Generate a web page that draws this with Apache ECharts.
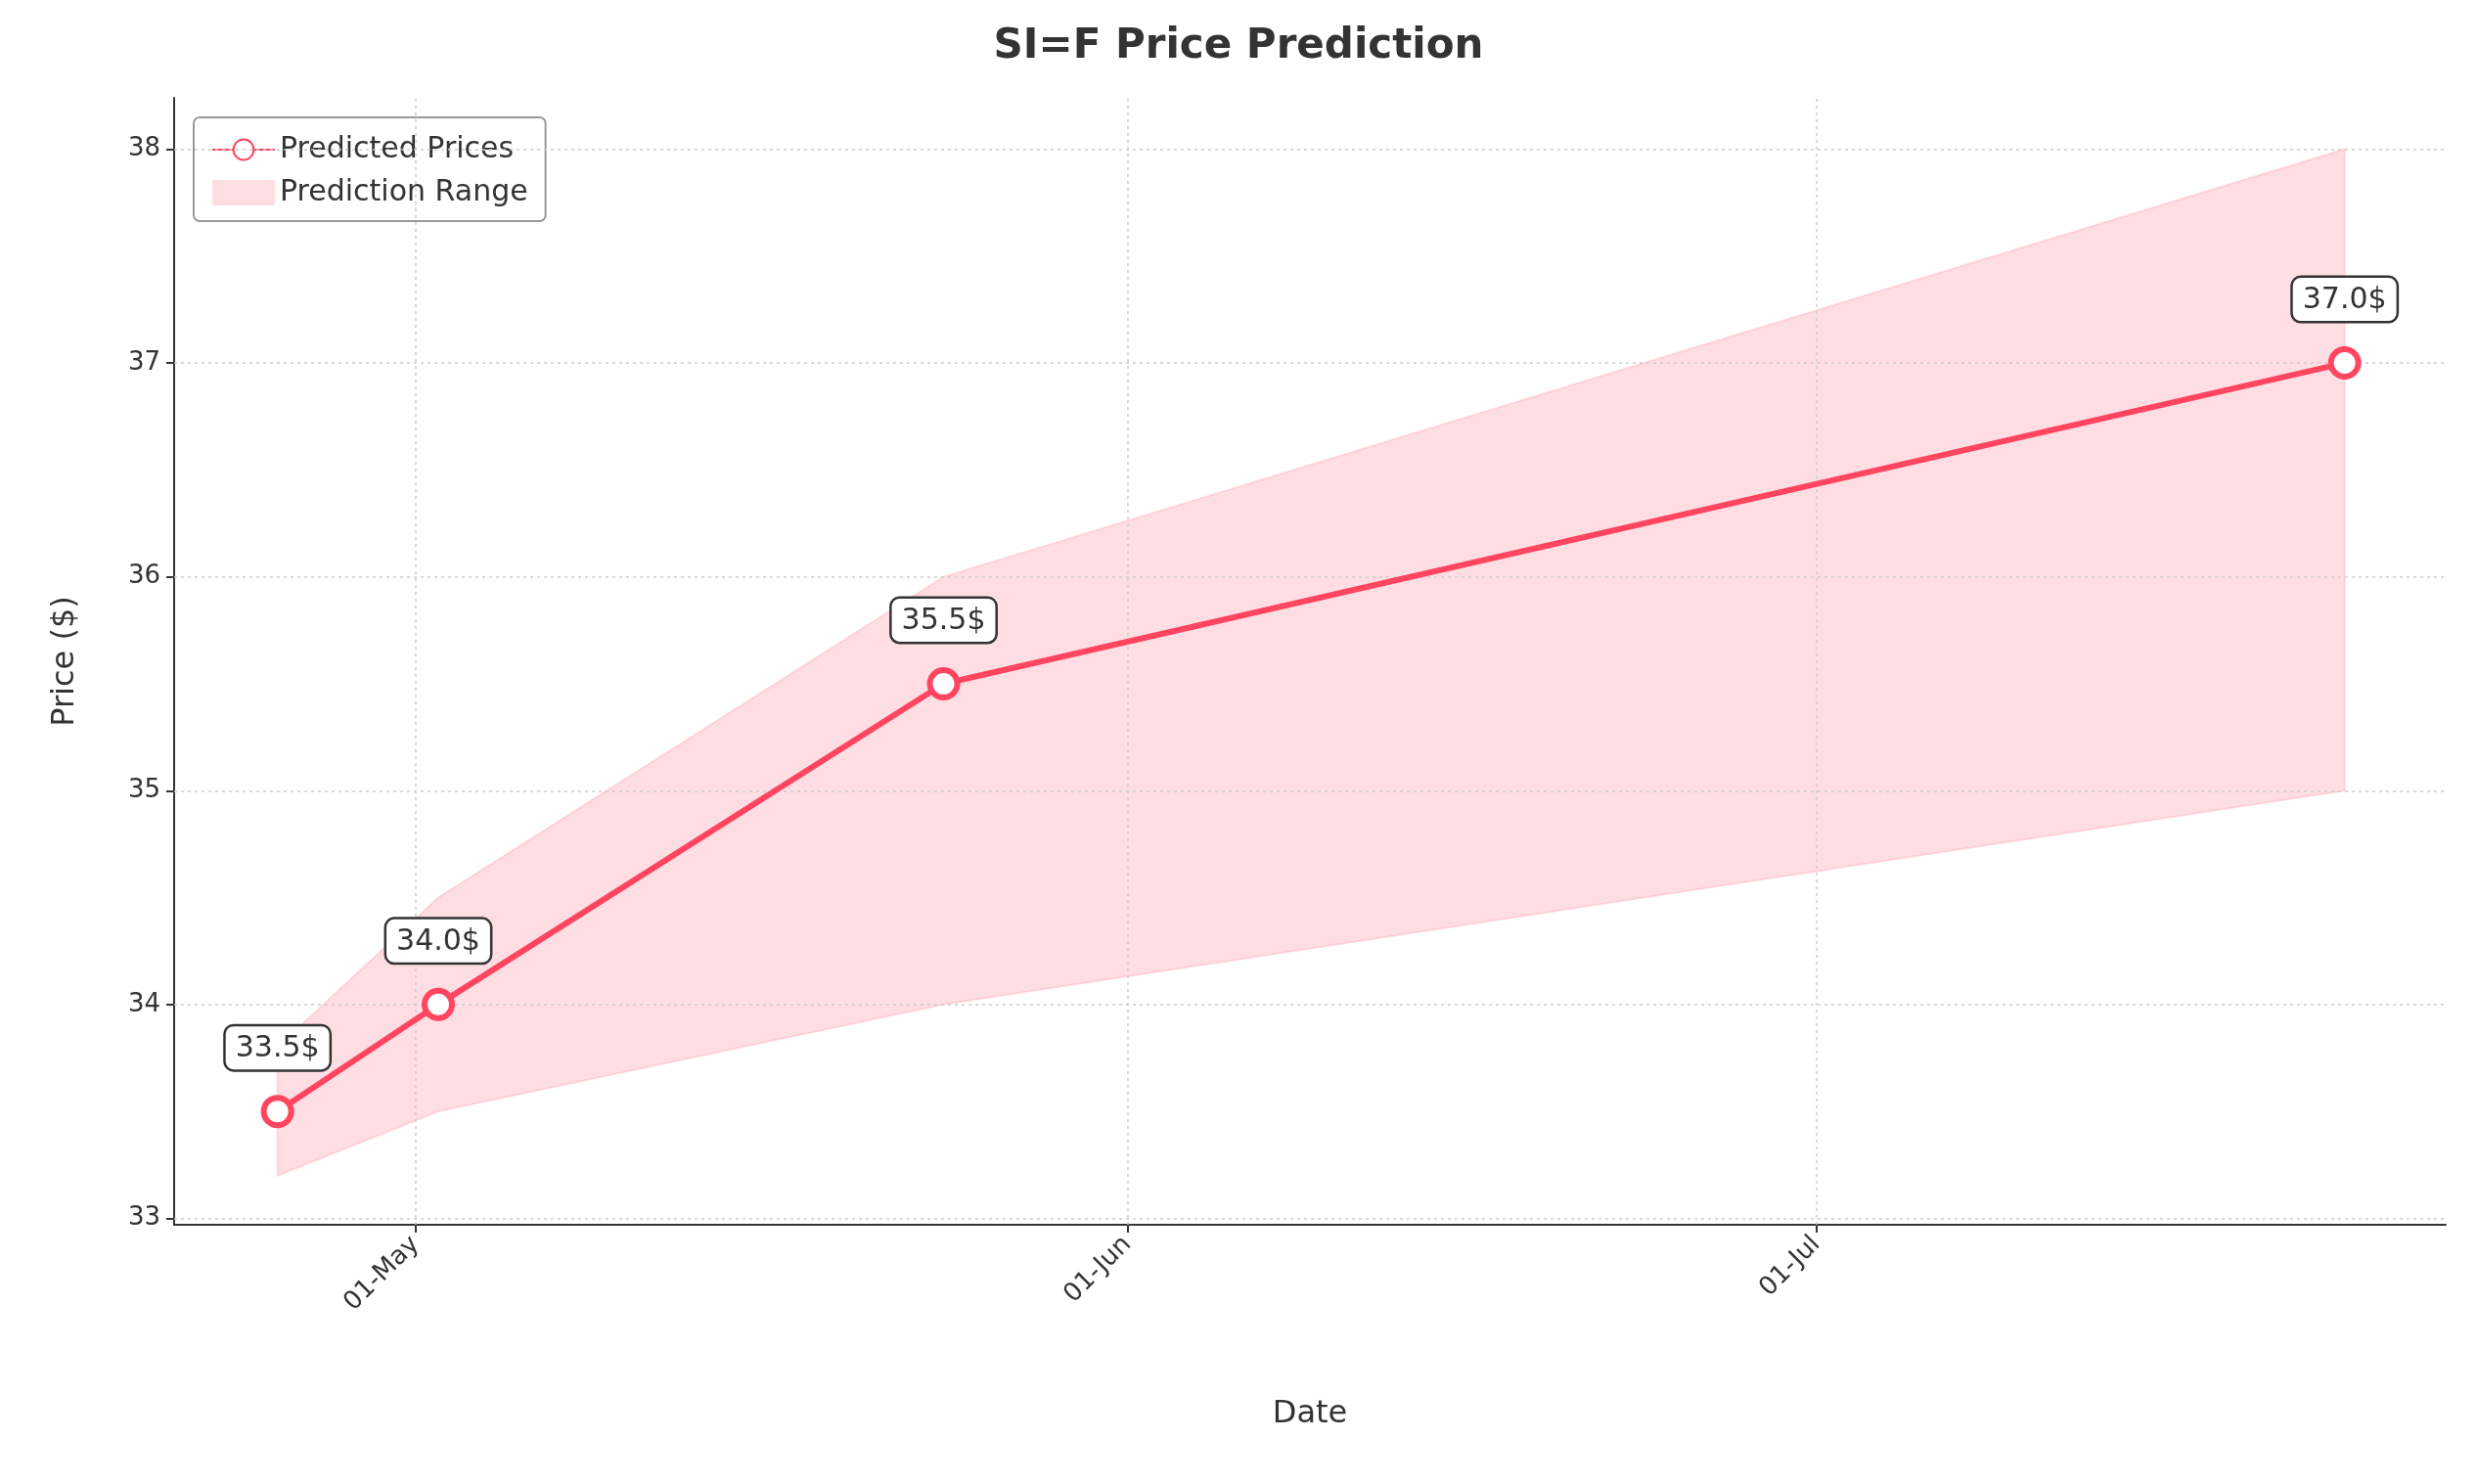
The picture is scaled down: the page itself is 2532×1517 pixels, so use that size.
<!DOCTYPE html>
<html><head><meta charset="utf-8">
<script src="https://cdn.jsdelivr.net/npm/echarts@6/dist/echarts.min.js"></script>
<style>html,body{margin:0;background:#fff}#c{width:2532px;height:1517px}</style>
</head><body><div id="c"></div>
<script>
const dates = ['2025-04-25','2025-05-02','2025-05-24','2025-07-24'];
const predicted = [33.5, 34.0, 35.5, 37.0];
const lower = [33.2, 33.5, 34.0, 35.0];
const upper = [33.8, 34.5, 36.0, 38.0];
const tickDates = ['2025-05-01','2025-06-01','2025-07-01'];
const yTicks = [33,34,35,36,37,38];
const monthNames = ['Jan','Feb','Mar','Apr','May','Jun','Jul','Aug','Sep','Oct','Nov','Dec'];

const ts = d => Date.parse(d + 'T00:00:00Z');
const tickTs = tickDates.map(ts);
const day = 86400000;
const band = dates.map((d,i)=>[ts(d), lower[i], upper[i]]);
const line = dates.map((d,i)=>[ts(d), predicted[i]]);
const fmt = v => { const d = new Date(v); return String(d.getUTCDate()).padStart(2,'0') + '-' + monthNames[d.getUTCMonth()]; };
const txt = '#333';
const chart = echarts.init(document.getElementById('c'));
chart.setOption({
  animation:false,
  title:{text:'SI=F Price Prediction',left:'center',top:22,textStyle:{fontFamily:'DejaVu Sans',fontSize:42,fontWeight:'bold',color:txt}},
  legend:{left:198,top:120,orient:'vertical',itemGap:14,itemWidth:64,itemHeight:26,
    borderColor:'#999',borderWidth:2,borderRadius:6,padding:[18,18,14,18],
    textStyle:{fontFamily:'DejaVu Sans',fontSize:30,color:txt},
    data:[{name:'Predicted Prices'},{name:'Prediction Range',icon:'rect'}]},
  grid:{left:178,right:32,top:100,bottom:265},
  xAxis:{type:'value',min:ts('2025-04-20')+0.5*day,max:ts('2025-07-28')+0.4*day,
    name:'Date',nameLocation:'middle',nameGap:178,nameTextStyle:{fontFamily:'DejaVu Sans',fontSize:32,color:txt},
    axisLine:{lineStyle:{color:'#333',width:2}},
    axisTick:{customValues:tickTs,length:8,lineStyle:{color:'#333',width:2}},
    axisLabel:{customValues:tickTs,formatter:fmt,rotate:45,fontFamily:'DejaVu Sans',fontSize:26,color:txt,margin:16},
    splitLine:{show:false}},
  yAxis:{type:'value',min:32.97,max:38.24,
    name:'Price ($)',nameLocation:'middle',nameGap:95,nameTextStyle:{fontFamily:'DejaVu Sans',fontSize:32,color:txt},
    axisLine:{show:true,lineStyle:{color:'#333',width:2}},
    axisTick:{show:true,customValues:yTicks,length:8,lineStyle:{color:'#333',width:2}},
    axisLabel:{customValues:yTicks,fontFamily:'DejaVu Sans',fontSize:26,color:txt,margin:14},
    splitLine:{show:false}},
  series:[
    {type:'custom',name:'Prediction Range',data:band,itemStyle:{color:'rgba(255,182,193,0.45)'},
     encode:{x:0,y:[1,2]},z:1,
     renderItem:(params,api)=>{
       if(params.dataIndex!==0) return;
       const top = band.map(b=>api.coord([b[0],b[2]]));
       const bot = band.map(b=>api.coord([b[0],b[1]])).reverse();
       return {type:'polygon',shape:{points:top.concat(bot)},style:{fill:'rgba(255,182,193,0.45)',stroke:'rgba(255,150,165,0.3)',lineWidth:2}};
     }},
    {type:'line',name:'Gridlines',data:[],silent:true,
     markLine:{symbol:'none',silent:true,label:{show:false},lineStyle:{color:'#ccc',type:[3,4],width:1.5},
       data:tickTs.map(t=>({xAxis:t})).concat(yTicks.map(v=>({yAxis:v})))}},
    {type:'line',name:'Predicted Prices',data:line,z:5,color:'#ff4560',
     lineStyle:{color:'#ff4560',width:6},symbol:'circle',symbolSize:28,
     itemStyle:{color:'#fff',borderColor:'#ff4560',borderWidth:6},
     label:{show:true,position:'top',distance:26,formatter:p=>p.value[1].toFixed(1)+'$',
       fontFamily:'DejaVu Sans',fontSize:30,color:txt,backgroundColor:'#fff',borderColor:'#333',borderWidth:2.5,borderRadius:8,padding:[8,10,6,10]}}
  ]
});
</script></body></html>
